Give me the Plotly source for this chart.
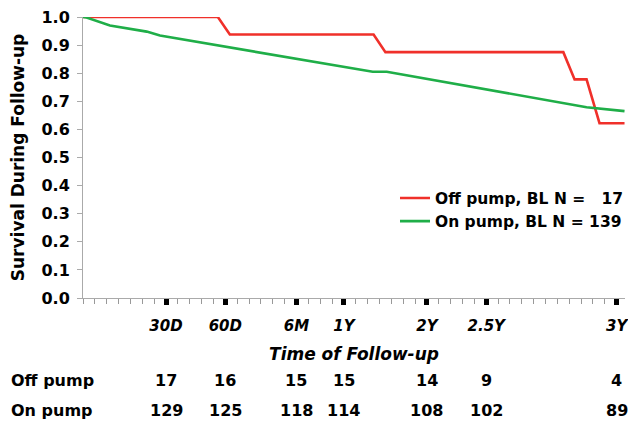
import plotly.graph_objects as go

# Time axis is in evenly spaced tick units (one minor tick per unit)
tick_pos = [7, 12, 18, 22, 29, 34, 45]
tick_labels = ["30D", "60D", "6M", "1Y", "2Y", "2.5Y", "3Y"]

off_x = [0, 11.37, 12.38, 24.5, 25.5, 40.5, 41.45, 42.46, 43.55, 45.66]
off_y = [1.0, 1.0, 0.9375, 0.9375, 0.875, 0.875, 0.778, 0.778, 0.622, 0.622]

on_x = [0, 0.3, 2.27, 5.37, 6.49, 24.43, 25.61, 42.46, 45.66]
on_y = [1.0, 0.998, 0.970, 0.948, 0.934, 0.805, 0.805, 0.679, 0.665]

off_risk = ["17", "16", "15", "15", "14", "9", "4"]
on_risk = ["129", "125", "118", "114", "108", "102", "89"]

FONT = "DejaVu Sans, Verdana, sans-serif"
RED = "#f0302a"
GREEN = "#1fae48"

fig = go.Figure()
fig.add_trace(go.Scatter(x=off_x, y=off_y, mode="lines",
                         line=dict(color=RED, width=2.6),
                         name="Off pump, BL N =\u00a0\u00a0 17", cliponaxis=False))
fig.add_trace(go.Scatter(x=on_x, y=on_y, mode="lines",
                         line=dict(color=GREEN, width=2.6),
                         name="On pump, BL N = 139", cliponaxis=False))

bold16 = dict(family=FONT, size=16, color="black", weight="bold")
for xv, a, b in zip(tick_pos, off_risk, on_risk):
    fig.add_annotation(x=xv, y=-0.295, xref="x", yref="paper", text=a,
                       xanchor="center", yanchor="middle", showarrow=False, font=bold16)
    fig.add_annotation(x=xv, y=-0.402, xref="x", yref="paper", text=b,
                       xanchor="center", yanchor="middle", showarrow=False, font=bold16)

row_x = (9 - 83) / 542
fig.add_annotation(x=row_x, y=-0.295, xref="paper", yref="paper", xanchor="left",
                   yanchor="middle", text="Off pump", showarrow=False, font=bold16)
fig.add_annotation(x=row_x, y=-0.402, xref="paper", yref="paper", xanchor="left",
                   yanchor="middle", text="On pump", showarrow=False, font=bold16)

fig.update_layout(
    width=628, height=429,
    margin=dict(l=83, r=3, t=17, b=131, autoexpand=False),
    plot_bgcolor="white", paper_bgcolor="white",
    showlegend=True,
    legend=dict(x=(395 - 83) / 542, xanchor="left", y=0.415, yanchor="top",
                font=dict(family=FONT, size=15.5, color="black", weight="bold"),
                bgcolor="rgba(0,0,0,0)", itemwidth=30),
    xaxis=dict(range=[0, 45.7], showgrid=False, zeroline=False, automargin=False,
               showline=True, linecolor="#aaaaaa", linewidth=1,
               tickmode="array", tickvals=tick_pos, ticktext=tick_labels,
               ticks="outside", ticklen=6, tickwidth=5, tickcolor="black",
               ticklabelstandoff=8, ticklabeloverflow="allow",
               tickfont=dict(family=FONT, size=15, color="black", weight="bold", style="italic"),
               minor=dict(tickmode="linear", tick0=0, dtick=1, ticks="outside",
                          ticklen=5, tickwidth=1, tickcolor="#999999"),
               title=dict(text="Time of Follow-up", standoff=14,
                          font=dict(family=FONT, size=17, color="black", weight="bold", style="italic"))),
    yaxis=dict(range=[0, 1.0], showgrid=False, zeroline=False, automargin=False,
               showline=True, linecolor="#aaaaaa", linewidth=1,
               tickmode="array", tickvals=[i / 10 for i in range(11)],
               ticktext=[f"{i/10:.1f}" for i in range(11)],
               ticks="outside", ticklen=5, tickcolor="#aaaaaa",
               ticklabelstandoff=4,
               tickfont=bold16,
               title=dict(text="Survival During Follow-up", standoff=12,
                          font=dict(family=FONT, size=17, color="black", weight="bold"))),
)

fig.write_html("out.html", config={"displayModeBar": False},
               post_script="document.body.style.margin='0';")
